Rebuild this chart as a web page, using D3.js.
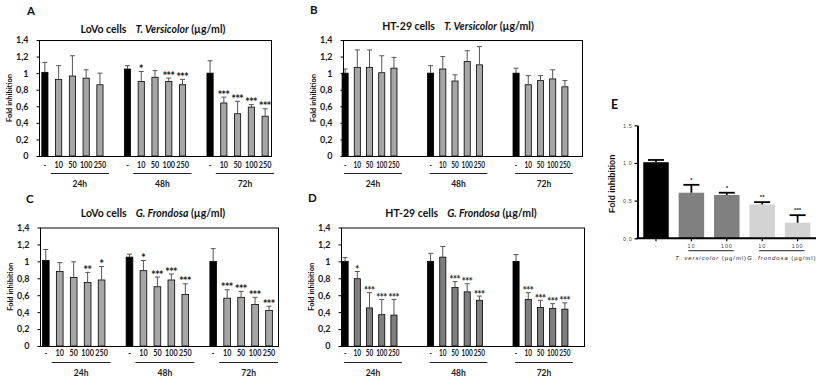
<!DOCTYPE html>
<html>
<head>
<meta charset="utf-8">
<script src="https://cdn.jsdelivr.net/npm/d3@7"></script>
<style>
  body { margin: 0; background: #fff; }
  svg text { font-family: Lato, "DejaVu Sans", sans-serif; }
  .e-panel text { font-family: "Liberation Sans", Arial, sans-serif; }
  svg text.sig { font-family: "DejaVu Sans", sans-serif; }
</style>
</head>
<body>
<div id="chart"></div>
<script>
const doses = ["-", "10", "50", "100", "250"];
const times = ["24h", "48h", "72h"];
const yTickValues = [0, 0.2, 0.4, 0.6, 0.8, 1, 1.2, 1.4];
const yTickLabels = ["0", "0,2", "0,4", "0,6", "0,8", "1", "1,2", "1,4"];

// LoVo cells, T. versicolor (24h, 48h, 72h x 5 doses)
const lovoTvMean = [1.01, 0.925, 0.965, 0.94, 0.86, 1.05, 0.90, 0.95, 0.90, 0.86, 1.0, 0.64, 0.51, 0.59, 0.48];
const lovoTvSd = [0.12, 0.165, 0.245, 0.10, 0.14, 0.04, 0.12, 0.08, 0.04, 0.065, 0.15, 0.07, 0.15, 0.03, 0.09];
const lovoTvSig = ["", "", "", "", "", "", "*", "", "***", "***", "", "***", "***", "***", "***"];

// HT-29 cells, T. versicolor
const htTvMean = [1.0, 1.07, 1.07, 1.005, 1.06, 1.0, 1.05, 0.905, 1.14, 1.10, 1.0, 0.86, 0.91, 0.93, 0.835];
const htTvSd = [0.05, 0.21, 0.21, 0.205, 0.13, 0.09, 0.15, 0.075, 0.13, 0.22, 0.06, 0.11, 0.06, 0.11, 0.075];
const htTvSig = ["", "", "", "", "", "", "", "", "", "", "", "", "", "", ""];

// LoVo cells, G. frondosa
const lovoGfMean = [1.01, 0.88, 0.81, 0.75, 0.78, 1.05, 0.89, 0.70, 0.78, 0.61, 1.0, 0.565, 0.575, 0.49, 0.42];
const lovoGfSd = [0.13, 0.105, 0.185, 0.12, 0.16, 0.035, 0.12, 0.115, 0.07, 0.125, 0.15, 0.10, 0.07, 0.085, 0.05];
const lovoGfSig = ["", "", "", "**", "*", "", "*", "***", "***", "***", "", "***", "***", "***", "***"];

// HT-29 cells, G. frondosa
const htGfMean = [1.0, 0.795, 0.45, 0.37, 0.365, 1.0, 1.05, 0.69, 0.64, 0.54, 1.0, 0.55, 0.455, 0.445, 0.435];
const htGfSd = [0.045, 0.085, 0.18, 0.18, 0.185, 0.095, 0.125, 0.07, 0.095, 0.05, 0.08, 0.08, 0.085, 0.055, 0.075];
const htGfSig = ["", "*", "***", "***", "***", "", "", "***", "***", "***", "", "***", "***", "***", "***"];

// panel E
const eLabels = ["-", "10", "100", "10", "100"];
const eGroup = ["ctrl", "tv", "tv", "gf", "gf"];
const eMean = [1.01, 0.605, 0.575, 0.45, 0.207];
const eSd = [0.03, 0.105, 0.03, 0.03, 0.10];
const eSig = ["", "*", "*", "**", "***"];
const eTickValues = [0, 0.5, 1, 1.5];
const eGroupNames = ["tv", "gf"];
const eGroupLabels = ["T. versicolor", "G. frondosa"];

const svg = d3.select("#chart").append("svg")
  .attr("width", 819).attr("height", 377);

const panels = [
  { letter: "A", lx: 27, ly: 14.5, cell: "LoVo cells", fungus: "T. Versicolor",
    mean: lovoTvMean, sd: lovoTvSd, sig: lovoTvSig, gap: 1,
    box: [39, 271, 40, 156], range: [38, 272], pad: 0.55,
    titleX: 153, titleY: 33, tickY: 168, lineY: 173.5, groupY: 186.5, fill: "#a6a6a6",
    wide: false, squeeze: 0.85 },
  { letter: "B", lx: 310, ly: 13.5, cell: "HT-29 cells", fungus: "T. Versicolor",
    mean: htTvMean, sd: htTvSd, sig: htTvSig, gap: 2,
    box: [343, 582, 40, 156], range: [339, 571], pad: 0.5,
    titleX: 458, titleY: 30, tickY: 168, lineY: 173.5, groupY: 186.5, fill: "#a6a6a6",
    wide: true, squeeze: 0.76 },
  { letter: "C", lx: 26, ly: 202.5, cell: "LoVo cells", fungus: "G. Frondosa",
    mean: lovoGfMean, sd: lovoGfSd, sig: lovoGfSig, gap: 1,
    box: [40, 278, 227.5, 346], range: [38.8, 276], pad: 0.52,
    titleX: 153, titleY: 217, tickY: 356, lineY: 362.5, groupY: 376, fill: "#a6a6a6",
    wide: false, squeeze: 0.85 },
  { letter: "D", lx: 308, ly: 201.5, cell: "HT-29 cells", fungus: "G. Frondosa",
    mean: htGfMean, sd: htGfSd, sig: htGfSig, gap: 2,
    box: [341, 584, 227.5, 346], range: [339, 571], pad: 0.5,
    titleX: 461, titleY: 217, tickY: 356, lineY: 362.5, groupY: 376, fill: "#7f7f7f",
    wide: true, squeeze: 0.76 }
];

panels.forEach(drawPanel);
drawPanelE();

function drawPanel(p) {
  const g = svg.append("g");
  const [bx0, bx1, by0, by1] = p.box;

  // slot keys: 5 doses per time point, gap slots in between
  const slots = [];
  times.forEach((t, ti) => {
    doses.forEach((d) => slots.push(t + "|" + d));
    if (ti < times.length - 1) {
      for (let k = 0; k < p.gap; k++) slots.push("gap" + ti + k);
    }
  });

  const rows = [];
  times.forEach((t, ti) => {
    doses.forEach((d, di) => {
      const i = ti * doses.length + di;
      rows.push({ key: t + "|" + d, time: t, dose: d, mean: p.mean[i], sd: p.sd[i], sig: p.sig[i] });
    });
  });

  const x = d3.scaleBand().domain(slots).range(p.range)
    .paddingInner(p.pad).paddingOuter(p.pad / 2);
  const y = d3.scaleLinear().domain([0, 1.4]).range([by1, by0]);
  const cx = (k) => x(k) + x.bandwidth() / 2;

  // panel letter
  g.append("text").attr("x", p.lx).attr("y", p.ly)
    .attr("font-size", 11.5).attr("font-weight", "bold").attr("fill", "#111")
    .text(p.letter);

  // title
  const title = g.append("text").attr("x", p.titleX).attr("y", p.titleY)
    .attr("text-anchor", "middle").attr("font-size", 10.5).attr("font-weight", "bold")
    .attr("fill", "#111");
  title.append("tspan").text(p.cell);
  title.append("tspan").attr("dx", 9).attr("font-style", "italic").text(p.fungus);
  title.append("tspan").text(" (\u00b5g/ml)");

  // y axis
  g.append("g")
    .attr("transform", `translate(${bx0 + 0.5},0)`)
    .call(d3.axisLeft(y).tickValues(yTickValues)
      .tickFormat((d, i) => yTickLabels[i]).tickSize(3).tickPadding(8))
    .call((a) => a.select(".domain").remove())
    .call((a) => a.selectAll("text").attr("font-size", 9).attr("font-weight", "bold")
      .attr("fill", "#1a1a1a").style("font-family", "Lato, sans-serif"));

  g.append("text")
    .attr("transform", `translate(${bx0 - 27},${(by0 + by1) / 2}) rotate(-90)`)
    .attr("text-anchor", "middle").attr("font-size", 7.5).attr("font-weight", "bold")
    .attr("fill", "#111").text("Fold inhibition");

  // bars
  g.selectAll(".bar").data(rows).join("rect")
    .attr("class", "bar")
    .attr("x", (d) => x(d.key))
    .attr("width", x.bandwidth())
    .attr("y", (d) => y(d.mean))
    .attr("height", (d) => by1 - y(d.mean))
    .attr("fill", (d) => (d.dose === "-" ? "#000" : p.fill))
    .attr("stroke", "#000").attr("stroke-width", 0.8);

  // error bars (upper only)
  const eb = g.selectAll(".err").data(rows).join("g").attr("class", "err");
  eb.append("line")
    .attr("x1", (d) => cx(d.key)).attr("x2", (d) => cx(d.key))
    .attr("y1", (d) => y(d.mean)).attr("y2", (d) => y(d.mean + d.sd))
    .attr("stroke", "#555").attr("stroke-width", 1);
  eb.append("line")
    .attr("x1", (d) => cx(d.key) - 2.5).attr("x2", (d) => cx(d.key) + 2.5)
    .attr("y1", (d) => y(d.mean + d.sd)).attr("y2", (d) => y(d.mean + d.sd))
    .attr("stroke", "#555").attr("stroke-width", 1);

  // significance marks
  g.selectAll(".sig").data(rows.filter((d) => d.sig)).join("text")
    .attr("class", "sig")
    .attr("transform", (d) => `translate(${cx(d.key)},${y(d.mean + d.sd) - 0.5}) scale(${p.wide ? 0.78 : 0.88},1)`)
    .attr("text-anchor", "middle").attr("font-size", 8.5).attr("font-weight", "bold")
    .attr("fill", "#222").text((d) => d.sig);

  // plot box
  g.append("rect")
    .attr("x", bx0 + 0.5).attr("y", by0 + 0.5)
    .attr("width", bx1 - bx0).attr("height", by1 - by0)
    .attr("fill", "none").attr("stroke", "#000").attr("stroke-width", 1);

  // dose labels
  g.append("g")
    .attr("transform", `translate(0,${by1})`)
    .call(d3.axisBottom(x).tickValues(rows.map((d) => d.key))
      .tickFormat((k) => k.split("|")[1]).tickSize(0))
    .call((a) => a.select(".domain").remove())
    .call((a) => a.selectAll("text").attr("y", null).attr("dy", null)
      .attr("transform", `translate(0,${p.tickY - by1}) scale(${p.squeeze},1)`)
      .attr("font-size", 8.5).attr("font-weight", "bold").attr("fill", "#1a1a1a")
      .style("font-family", "Lato, sans-serif"));

  // time groups
  times.forEach((t) => {
    const xa = p.wide ? cx(t + "|-") - 1 : cx(t + "|10") - 8;
    const xb = cx(t + "|250") + (p.wide ? 8 : 9);
    g.append("line").attr("x1", xa).attr("x2", xb)
      .attr("y1", p.lineY).attr("y2", p.lineY)
      .attr("stroke", "#222").attr("stroke-width", 1);
    g.append("text").attr("x", (xa + xb) / 2).attr("y", p.groupY)
      .attr("text-anchor", "middle").attr("font-size", 8.5).attr("font-weight", "bold")
      .attr("fill", "#1a1a1a").text(t);
  });
}

function drawPanelE() {
  const g = svg.append("g").attr("class", "e-panel");
  const x0 = 637.5, x1 = 816, yTop = 125.3, yBot = 238.3;

  const rows = eLabels.map((l, i) => ({ key: "e" + i, label: l, group: eGroup[i],
    mean: eMean[i], sd: eSd[i], sig: eSig[i] }));

  const x = d3.scaleBand().domain(rows.map((d) => d.key)).range([638.3, 815.3])
    .paddingInner(0.28).paddingOuter(0.14);
  const y = d3.scaleLinear().domain([0, 1.5]).range([yBot, yTop]);
  const color = d3.scaleOrdinal().domain(["ctrl", "tv", "gf"])
    .range(["#000000", "#808080", "#d3d3d3"]);
  const cx = (k) => x(k) + x.bandwidth() / 2;

  g.append("text").attr("x", 611).attr("y", 108.5)
    .attr("font-size", 12.5).attr("font-weight", "bold").attr("fill", "#111")
    .style("font-family", "Lato, sans-serif").text("E");

  g.append("text")
    .attr("transform", `translate(615,${(yTop + yBot) / 2 + 2}) rotate(-90)`)
    .attr("text-anchor", "middle").attr("font-size", 8.5).attr("font-weight", "bold")
    .attr("fill", "#111").text("Fold inhibition");

  g.selectAll(".ebar").data(rows).join("rect")
    .attr("class", "ebar")
    .attr("x", (d) => x(d.key)).attr("width", x.bandwidth())
    .attr("y", (d) => y(d.mean)).attr("height", (d) => yBot - y(d.mean))
    .attr("fill", (d) => color(d.group));

  const eb = g.selectAll(".eerr").data(rows).join("g").attr("class", "eerr");
  eb.append("line")
    .attr("x1", (d) => cx(d.key)).attr("x2", (d) => cx(d.key))
    .attr("y1", (d) => y(d.mean)).attr("y2", (d) => y(d.mean + d.sd))
    .attr("stroke", "#000").attr("stroke-width", 1.8);
  eb.append("line")
    .attr("x1", (d) => cx(d.key) - 8).attr("x2", (d) => cx(d.key) + 8)
    .attr("y1", (d) => y(d.mean + d.sd)).attr("y2", (d) => y(d.mean + d.sd))
    .attr("stroke", "#000").attr("stroke-width", 1.8);

  g.selectAll(".esig").data(rows.filter((d) => d.sig)).join("text")
    .attr("class", "esig")
    .attr("x", (d) => cx(d.key)).attr("y", (d) => y(d.mean + d.sd) - 3)
    .attr("text-anchor", "middle").attr("font-size", 6).attr("font-weight", "bold")
    .attr("fill", "#222").text((d) => d.sig);

  // y axis
  g.append("g").attr("transform", `translate(${x0},0)`)
    .call(d3.axisLeft(y).tickValues(eTickValues).tickFormat(d3.format(".1f"))
      .tickSize(3).tickSizeOuter(0).tickPadding(2))
    .call((a) => a.select(".domain").attr("stroke-width", 2))
    .call((a) => a.selectAll(".tick line").attr("stroke-width", 1.2))
    .call((a) => a.selectAll("text").attr("font-size", 5.5).attr("fill", "#444")
      .attr("letter-spacing", 0.6));

  // x axis
  g.append("g").attr("transform", `translate(0,${yBot})`)
    .call(d3.axisBottom(x).tickFormat((k) => rows.find((r) => r.key === k).label)
      .tickSize(3).tickSizeOuter(0).tickPadding(3))
    .call((a) => a.select(".domain").attr("d", `M${x0 - 1},0H${x1}`).attr("stroke-width", 2))
    .call((a) => a.selectAll(".tick line").attr("stroke-width", 1.2))
    .call((a) => a.selectAll("text").attr("font-size", 5.5).attr("fill", "#444")
      .attr("letter-spacing", 0.8));

  eGroupNames.forEach((gn, gi) => {
    const ks = rows.filter((r) => r.group === gn).map((r) => r.key);
    const xa = cx(ks[0]) - 3, xb = cx(ks[ks.length - 1]) + 7;
    g.append("line").attr("x1", xa).attr("x2", xb).attr("y1", 250.7).attr("y2", 250.7)
      .attr("stroke", "#222").attr("stroke-width", 1);
    const t = g.append("text").attr("x", (xa + xb) / 2).attr("y", 260)
      .attr("text-anchor", "middle").attr("font-size", 5.8).attr("fill", "#222")
      .attr("letter-spacing", 1);
    t.append("tspan").attr("font-style", "italic").text(eGroupLabels[gi]);
    t.append("tspan").text(" (\u00b5g/ml)");
  });
}
</script>
</body>
</html>
